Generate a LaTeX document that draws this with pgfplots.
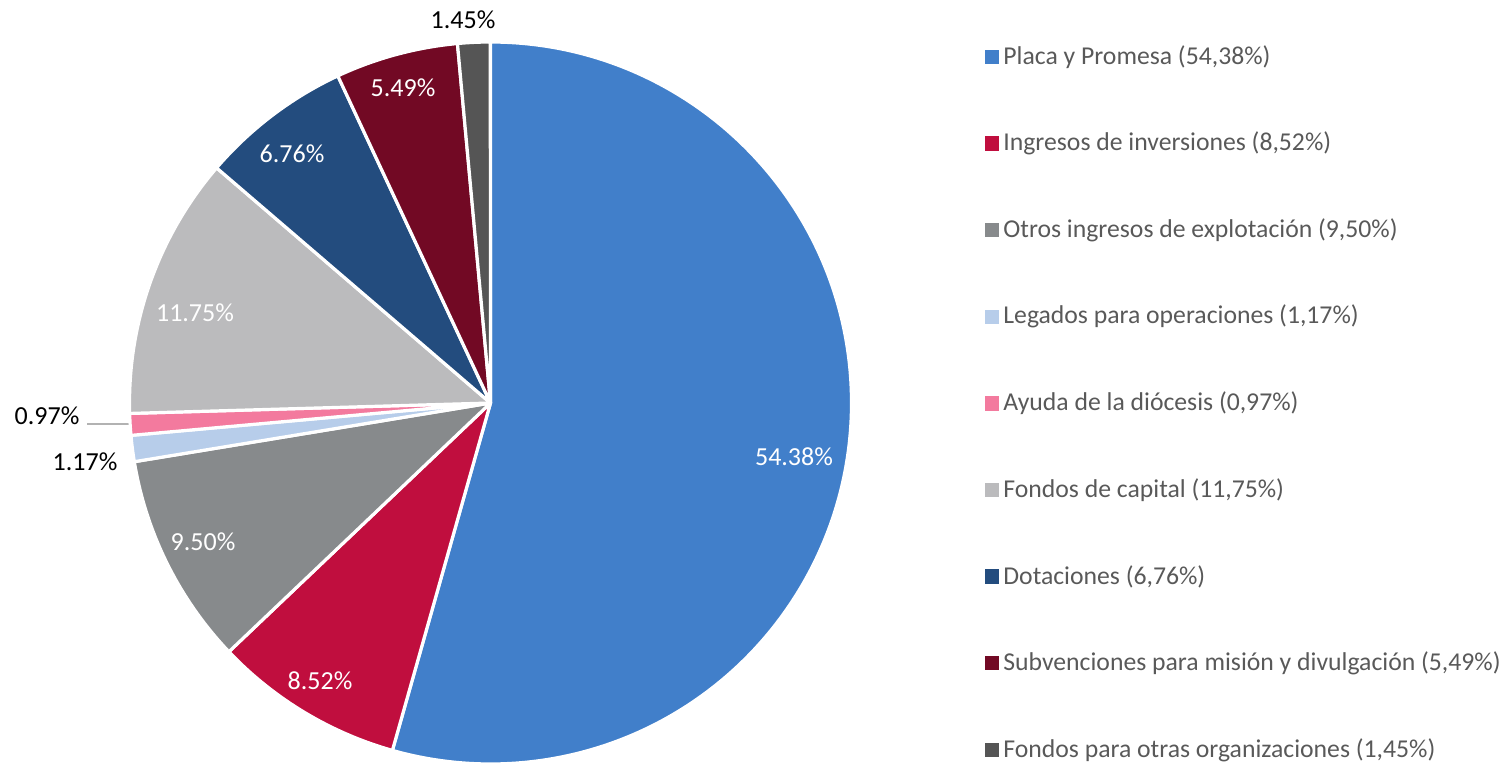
\documentclass[border=0pt]{standalone}
\usepackage{fontspec}
\setmainfont{Carlito}
\usepackage{pgfplots}
\usepackage{pgfplotstable}
\pgfplotsset{compat=1.18}
\pgfkeys{/pgf/number format/assume math mode=true}

\definecolor{cPlaca}{RGB}{65,127,202}
\definecolor{cIngresos}{RGB}{192,14,62}
\definecolor{cOtros}{RGB}{135,138,140}
\definecolor{cLegados}{RGB}{183,205,234}
\definecolor{cAyuda}{RGB}{243,122,158}
\definecolor{cCapital}{RGB}{187,187,189}
\definecolor{cDotaciones}{RGB}{35,76,126}
\definecolor{cSubv}{RGB}{114,9,36}
\definecolor{cOtras}{RGB}{85,85,85}
\definecolor{legtext}{RGB}{89,89,89}

% share (%), colour, label position (px), label colour, legend name
\pgfplotstableread[col sep=comma]{
val,col,lx,ly,lc,name
54.38,cPlaca,794,457,white,Placa y Promesa
8.52,cIngresos,320,681,white,Ingresos de inversiones
9.50,cOtros,203,542,white,Otros ingresos de explotación
1.17,cLegados,85,462,black,Legados para operaciones
0.97,cAyuda,47,416,black,Ayuda de la diócesis
11.75,cCapital,195,313,white,Fondos de capital
6.76,cDotaciones,292,154,white,Dotaciones
5.49,cSubv,403,88,white,Subvenciones para misión y divulgación
1.45,cOtras,463,20,black,Fondos para otras organizaciones
}\piedata

\begin{document}
\begin{tikzpicture}
\begin{axis}[
  width=752.5pt, height=382pt,
  scale only axis,
  xmin=0, xmax=1505, ymin=0, ymax=764,
  y dir=reverse,
  hide axis,
  clip=false,
]
\path (rel axis cs:0,0) rectangle (rel axis cs:1,1);
\draw[gray!60, line width=1pt] (axis cs:87,424) -- (axis cs:129,424);
\pgfplotsextra{
  \xdef\cum{0}
  \pgfplotstablegetrowsof{\piedata}
  \pgfmathtruncatemacro\nrows{\pgfplotsretval-1}
  \foreach \i in {0,...,\nrows}{
    \pgfplotstablegetelem{\i}{val}\of\piedata \let\v\pgfplotsretval
    \pgfplotstablegetelem{\i}{col}\of\piedata \let\c\pgfplotsretval
    \pgfplotstablegetelem{\i}{lx}\of\piedata \let\lx\pgfplotsretval
    \pgfplotstablegetelem{\i}{ly}\of\piedata \let\ly\pgfplotsretval
    \pgfplotstablegetelem{\i}{lc}\of\piedata \let\lc\pgfplotsretval
    \pgfplotstablegetelem{\i}{name}\of\piedata \let\nm\pgfplotsretval
    \pgfmathsetmacro\a{90-3.6*\cum}
    \pgfmathsetmacro\b{90-3.6*(\cum+\v)}
    \filldraw[fill=\c, draw=white, line width=1.6pt, line join=round]
      (axis cs:490.5,403) -- ++(\a:180.5pt)
      arc[start angle=\a, end angle=\b, radius=180.5pt] -- cycle;
    \node[text=\lc, inner sep=0pt, font=\fontsize{13}{15}\selectfont]
      at (axis cs:\lx,\ly)
      {\pgfmathprintnumber[fixed, precision=2, fixed zerofill]{\v}\%};
    % legend entry
    \pgfmathsetmacro\legy{57+86.6*\i}
    \fill[\c] (axis cs:985,\legy) ++(0,-3.6pt) rectangle ++(7.2pt,7.2pt);
    \node[anchor=west, inner sep=0pt, text=legtext, font=\fontsize{12.85}{15}\selectfont]
      at (axis cs:1003,\legy)
      {\nm{} (\pgfmathprintnumber[fixed, precision=2, fixed zerofill, use comma]{\v}\%)};
    \pgfmathsetmacro\newcum{\cum+\v}
    \xdef\cum{\newcum}
  }
}
\end{axis}
\end{tikzpicture}
\end{document}
